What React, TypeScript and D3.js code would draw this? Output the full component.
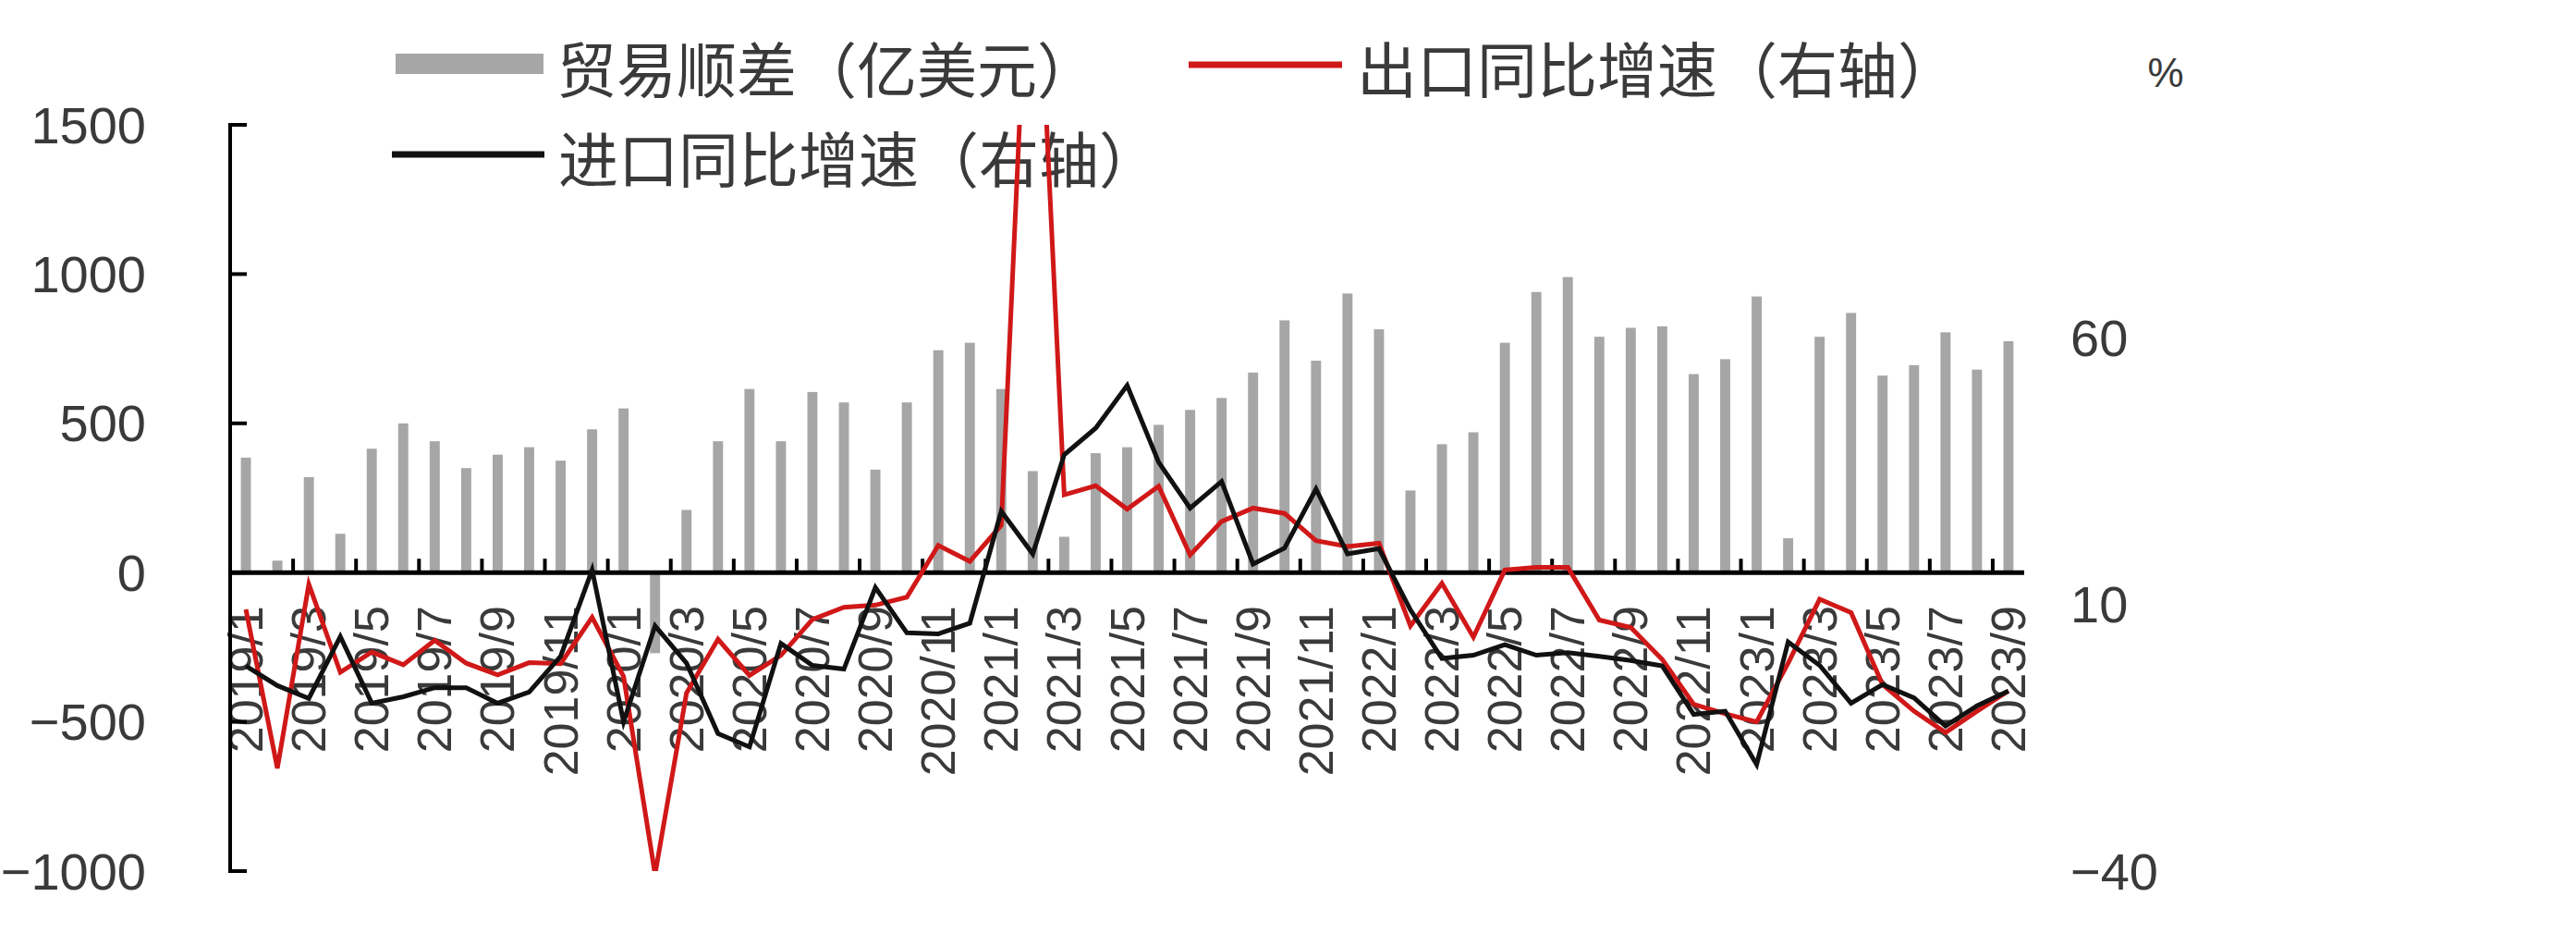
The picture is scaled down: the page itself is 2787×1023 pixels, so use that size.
import React from 'react';
import * as d3 from 'd3';

// Monthly categories, 2019/1 – 2023/9
const months = [
  '2019/1', '2019/2', '2019/3', '2019/4', '2019/5', '2019/6', '2019/7', '2019/8', '2019/9', '2019/10', '2019/11', '2019/12',
  '2020/1', '2020/2', '2020/3', '2020/4', '2020/5', '2020/6', '2020/7', '2020/8', '2020/9', '2020/10', '2020/11', '2020/12',
  '2021/1', '2021/2', '2021/3', '2021/4', '2021/5', '2021/6', '2021/7', '2021/8', '2021/9', '2021/10', '2021/11', '2021/12',
  '2022/1', '2022/2', '2022/3', '2022/4', '2022/5', '2022/6', '2022/7', '2022/8', '2022/9', '2022/10', '2022/11', '2022/12',
  '2023/1', '2023/2', '2023/3', '2023/4', '2023/5', '2023/6', '2023/7', '2023/8', '2023/9',
];

// 贸易顺差（亿美元）
const tradeBalance = [
  385, 40, 320, 130, 415, 500, 440, 350, 395, 420, 375, 480,
  550, -270, 210, 440, 615, 440, 605, 570, 345, 570, 745, 770,
  615, 340, 120, 400, 420, 495, 545, 585, 670, 845, 710, 935,
  815, 275, 430, 470, 770, 940, 990, 790, 820, 825, 665, 715,
  925, 115, 790, 870, 660, 695, 805, 680, 775,
];

// 出口同比增速（%，右轴）
const exportYoY = [
  9.1, -20.7, 13.8, -2.7, 1.1, -1.3, 3.3, -1.0, -3.2, -0.9, -1.1, 7.6,
  -3.5, -40.6, -6.6, 3.5, -3.3, 0.5, 7.2, 9.5, 9.9, 11.4, 21.1, 18.1,
  24.9, 154.9, 30.6, 32.3, 27.9, 32.2, 19.3, 25.6, 28.1, 27.1, 22.0, 20.9,
  21.5, 6.0, 14.0, 3.9, 16.5, 17.0, 17.0, 7.1, 5.7, -0.3, -8.7, -10.5,
  -12.0, -1.0, 11.0, 8.5, -5.0, -10.0, -14.0, -10.0, -6.2,
];

// 进口同比增速（%，右轴）
const importYoY = [
  -1.5, -5.2, -7.6, 4.0, -8.5, -7.3, -5.6, -5.6, -8.5, -6.4, 0.3, 16.5,
  -12.0, 6.0, -1.0, -14.2, -16.7, 2.7, -1.4, -2.1, 13.2, 4.7, 4.5, 6.5,
  27.5, 19.5, 38.1, 43.1, 51.1, 36.7, 28.1, 33.1, 17.6, 20.6, 31.7, 19.5,
  20.5, 9.0, -0.1, 0.5, 2.5, 0.5, 1.0, 0.3, -0.5, -1.5, -10.6, -10.0,
  -20.0, 3.0, -1.4, -8.5, -5.0, -7.5, -12.8, -9.0, -6.2,
];

const leftTicks = [-1000, -500, 0, 500, 1000, 1500];
const rightTicks = [-40, 10, 60];

const legendItems = ['贸易顺差（亿美元）', '出口同比增速（右轴）', '进口同比增速（右轴）'];
const unitLabel = '%';

const W = 2787;
const H = 1023;
const plot = { left: 249, right: 2190, top: 135, bottom: 942 };

const NUM_FONT = '"Liberation Sans", Arial, sans-serif';
const CJK_FONT = '"Noto Sans CJK SC", "Noto Sans", sans-serif';
const TEXT = '#3a3a3a';
const BAR = '#a6a6a6';
const RED = '#d01818';
const BLACK = '#111111';

const fmt = (v: number) => (v < 0 ? '\u2212' + Math.abs(v) : String(v));

export default function App() {
  const x = d3.scaleBand<string>().domain(months).range([plot.left, plot.right]).padding(0);
  const step = x.step();
  const cx = (m: string) => (x(m) as number) + step / 2;
  const barW = step * 0.32;

  const yL = d3.scaleLinear().domain([-1000, 1500]).range([plot.bottom, plot.top]);
  const yR = d3.scaleLinear().domain([-40, 100]).range([plot.bottom, plot.top]);
  const y0 = yL(0);

  const lineGen = d3
    .line<number>()
    .x((_, i) => cx(months[i]))
    .y((v) => yR(v));

  const boundaryTicks = d3.range(2, months.length, 2).map((b) => plot.left + b * step);

  return (
    <svg
      width={W}
      height={H}
      viewBox={`0 0 ${W} ${H}`}
      style={{ position: 'absolute', left: 0, top: 0, background: '#fff' }}
    >
      <defs>
        <clipPath id="plot-clip">
          <rect x={plot.left} y={plot.top} width={plot.right - plot.left} height={plot.bottom - plot.top} />
        </clipPath>
      </defs>
      <rect x={0} y={0} width={W} height={H} fill="#fff" />

      {/* legend */}
      <g fontFamily={CJK_FONT} fontSize={65} fill={TEXT}>
        <rect x={428} y={58} width={160} height={22} fill={BAR} />
        <text x={602} y={72} dominantBaseline="central">{legendItems[0]}</text>
        <line x1={1286} x2={1452} y1={70} y2={70} stroke={RED} strokeWidth={7} />
        <text x={1468} y={72} dominantBaseline="central">{legendItems[1]}</text>
        <line x1={424} x2={589} y1={167} y2={167} stroke={BLACK} strokeWidth={7} />
        <text x={604} y={169} dominantBaseline="central">{legendItems[2]}</text>
      </g>
      <text x={2343} y={78} fontFamily={NUM_FONT} fontSize={44} fill={TEXT} textAnchor="middle" dominantBaseline="central">
        {unitLabel}
      </text>

      {/* bars */}
      <g>
        {tradeBalance.map((v, i) => (
          <rect
            key={months[i]}
            x={cx(months[i]) - barW / 2}
            y={Math.min(yL(v), y0)}
            width={barW}
            height={Math.abs(yL(v) - y0)}
            fill={BAR}
          />
        ))}
      </g>

      {/* category labels, every other month */}
      <g fontFamily={NUM_FONT} fontSize={52} fill={TEXT}>
        {months.map((m, i) =>
          i % 2 === 0 ? (
            <text
              key={m}
              transform={`translate(${cx(m)},${y0 + 36}) rotate(-90)`}
              textAnchor="end"
              dominantBaseline="central"
            >
              {m}
            </text>
          ) : null
        )}
      </g>

      {/* left axis */}
      <line x1={plot.left} x2={plot.left} y1={plot.top - 2} y2={plot.bottom + 2} stroke="#000" strokeWidth={4} />
      {leftTicks.map((t) => (
        <g key={t}>
          <line x1={plot.left} x2={plot.left + 18} y1={yL(t)} y2={yL(t)} stroke="#000" strokeWidth={4} />
          <text
            x={158}
            y={yL(t)}
            textAnchor="end"
            dominantBaseline="central"
            fontFamily={NUM_FONT}
            fontSize={56}
            fill={TEXT}
          >
            {fmt(t)}
          </text>
        </g>
      ))}

      {/* right axis labels */}
      {rightTicks.map((t) => (
        <text
          key={t}
          x={2240}
          y={yR(t)}
          textAnchor="start"
          dominantBaseline="central"
          fontFamily={NUM_FONT}
          fontSize={56}
          fill={TEXT}
        >
          {fmt(t)}
        </text>
      ))}

      {/* zero line with tick marks */}
      <line x1={plot.left} x2={plot.right} y1={y0} y2={y0} stroke="#000" strokeWidth={5} />
      {boundaryTicks.map((bx, k) => (
        <line key={k} x1={bx} x2={bx} y1={y0} y2={y0 - 15} stroke="#000" strokeWidth={4} />
      ))}

      {/* growth lines */}
      <g clipPath="url(#plot-clip)" fill="none" strokeLinejoin="miter" strokeLinecap="butt">
        <path d={lineGen(exportYoY) || ''} stroke={RED} strokeWidth={5} />
        <path d={lineGen(importYoY) || ''} stroke={BLACK} strokeWidth={5} />
      </g>
    </svg>
  );
}
